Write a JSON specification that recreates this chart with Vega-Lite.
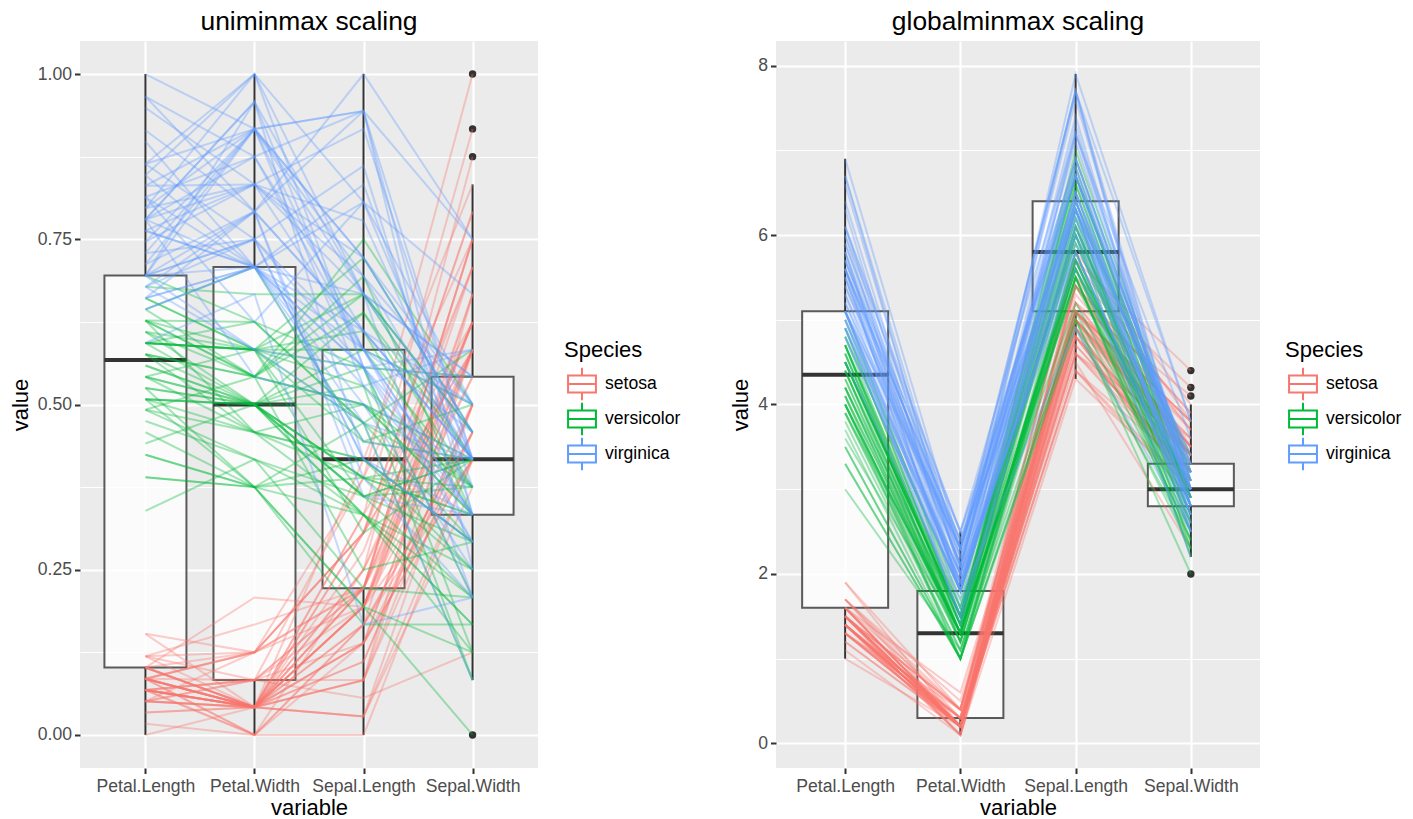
{
"$schema": "https://vega.github.io/schema/vega-lite/v6.json",
"background": "white",
"padding": {"left": 9, "top": 8, "right": 5, "bottom": 0},
"spacing": 48,
"config": {
  "font": "Liberation Sans",
  "view": {"fill": "#EBEBEB", "stroke": null},
  "axis": {"domain": false, "labelColor": "#4D4D4D", "labelFontSize": 17.6, "titleFontSize": 22, "titleFontWeight": "normal", "titleColor": "#000000", "tickColor": "#333333", "tickSize": 5.5, "tickWidth": 2, "gridColor": "#FFFFFF", "gridWidth": 2.1, "labelPadding": 3, "titlePadding": 5},
  "axisX": {"labelAngle": 0, "labelPadding": 4, "titlePadding": 2},
  "title": {"fontSize": 26.4, "fontWeight": "normal", "color": "#000000", "frame": "group", "anchor": "middle", "offset": 6}
},
"data": {"values": [
{"id":1,"Species":"setosa","PL":1.4,"PW":0.2,"SL":5.1,"SW":3.5,"uPL":0.068,"uPW":0.042,"uSL":0.222,"uSW":0.625},
{"id":2,"Species":"setosa","PL":1.4,"PW":0.2,"SL":4.9,"SW":3.0,"uPL":0.068,"uPW":0.042,"uSL":0.167,"uSW":0.417},
{"id":3,"Species":"setosa","PL":1.3,"PW":0.2,"SL":4.7,"SW":3.2,"uPL":0.051,"uPW":0.042,"uSL":0.111,"uSW":0.5},
{"id":4,"Species":"setosa","PL":1.5,"PW":0.2,"SL":4.6,"SW":3.1,"uPL":0.085,"uPW":0.042,"uSL":0.083,"uSW":0.458},
{"id":5,"Species":"setosa","PL":1.4,"PW":0.2,"SL":5.0,"SW":3.6,"uPL":0.068,"uPW":0.042,"uSL":0.194,"uSW":0.667},
{"id":6,"Species":"setosa","PL":1.7,"PW":0.4,"SL":5.4,"SW":3.9,"uPL":0.119,"uPW":0.125,"uSL":0.306,"uSW":0.792},
{"id":7,"Species":"setosa","PL":1.4,"PW":0.3,"SL":4.6,"SW":3.4,"uPL":0.068,"uPW":0.083,"uSL":0.083,"uSW":0.583},
{"id":8,"Species":"setosa","PL":1.5,"PW":0.2,"SL":5.0,"SW":3.4,"uPL":0.085,"uPW":0.042,"uSL":0.194,"uSW":0.583},
{"id":9,"Species":"setosa","PL":1.4,"PW":0.2,"SL":4.4,"SW":2.9,"uPL":0.068,"uPW":0.042,"uSL":0.028,"uSW":0.375},
{"id":10,"Species":"setosa","PL":1.5,"PW":0.1,"SL":4.9,"SW":3.1,"uPL":0.085,"uPW":0,"uSL":0.167,"uSW":0.458},
{"id":11,"Species":"setosa","PL":1.5,"PW":0.2,"SL":5.4,"SW":3.7,"uPL":0.085,"uPW":0.042,"uSL":0.306,"uSW":0.708},
{"id":12,"Species":"setosa","PL":1.6,"PW":0.2,"SL":4.8,"SW":3.4,"uPL":0.102,"uPW":0.042,"uSL":0.139,"uSW":0.583},
{"id":13,"Species":"setosa","PL":1.4,"PW":0.1,"SL":4.8,"SW":3.0,"uPL":0.068,"uPW":0,"uSL":0.139,"uSW":0.417},
{"id":14,"Species":"setosa","PL":1.1,"PW":0.1,"SL":4.3,"SW":3.0,"uPL":0.017,"uPW":0,"uSL":0,"uSW":0.417},
{"id":15,"Species":"setosa","PL":1.2,"PW":0.2,"SL":5.8,"SW":4.0,"uPL":0.034,"uPW":0.042,"uSL":0.417,"uSW":0.833},
{"id":16,"Species":"setosa","PL":1.5,"PW":0.4,"SL":5.7,"SW":4.4,"uPL":0.085,"uPW":0.125,"uSL":0.389,"uSW":1},
{"id":17,"Species":"setosa","PL":1.3,"PW":0.4,"SL":5.4,"SW":3.9,"uPL":0.051,"uPW":0.125,"uSL":0.306,"uSW":0.792},
{"id":18,"Species":"setosa","PL":1.4,"PW":0.3,"SL":5.1,"SW":3.5,"uPL":0.068,"uPW":0.083,"uSL":0.222,"uSW":0.625},
{"id":19,"Species":"setosa","PL":1.7,"PW":0.3,"SL":5.7,"SW":3.8,"uPL":0.119,"uPW":0.083,"uSL":0.389,"uSW":0.75},
{"id":20,"Species":"setosa","PL":1.5,"PW":0.3,"SL":5.1,"SW":3.8,"uPL":0.085,"uPW":0.083,"uSL":0.222,"uSW":0.75},
{"id":21,"Species":"setosa","PL":1.7,"PW":0.2,"SL":5.4,"SW":3.4,"uPL":0.119,"uPW":0.042,"uSL":0.306,"uSW":0.583},
{"id":22,"Species":"setosa","PL":1.5,"PW":0.4,"SL":5.1,"SW":3.7,"uPL":0.085,"uPW":0.125,"uSL":0.222,"uSW":0.708},
{"id":23,"Species":"setosa","PL":1.0,"PW":0.2,"SL":4.6,"SW":3.6,"uPL":0,"uPW":0.042,"uSL":0.083,"uSW":0.667},
{"id":24,"Species":"setosa","PL":1.7,"PW":0.5,"SL":5.1,"SW":3.3,"uPL":0.119,"uPW":0.167,"uSL":0.222,"uSW":0.542},
{"id":25,"Species":"setosa","PL":1.9,"PW":0.2,"SL":4.8,"SW":3.4,"uPL":0.153,"uPW":0.042,"uSL":0.139,"uSW":0.583},
{"id":26,"Species":"setosa","PL":1.6,"PW":0.2,"SL":5.0,"SW":3.0,"uPL":0.102,"uPW":0.042,"uSL":0.194,"uSW":0.417},
{"id":27,"Species":"setosa","PL":1.6,"PW":0.4,"SL":5.0,"SW":3.4,"uPL":0.102,"uPW":0.125,"uSL":0.194,"uSW":0.583},
{"id":28,"Species":"setosa","PL":1.5,"PW":0.2,"SL":5.2,"SW":3.5,"uPL":0.085,"uPW":0.042,"uSL":0.25,"uSW":0.625},
{"id":29,"Species":"setosa","PL":1.4,"PW":0.2,"SL":5.2,"SW":3.4,"uPL":0.068,"uPW":0.042,"uSL":0.25,"uSW":0.583},
{"id":30,"Species":"setosa","PL":1.6,"PW":0.2,"SL":4.7,"SW":3.2,"uPL":0.102,"uPW":0.042,"uSL":0.111,"uSW":0.5},
{"id":31,"Species":"setosa","PL":1.6,"PW":0.2,"SL":4.8,"SW":3.1,"uPL":0.102,"uPW":0.042,"uSL":0.139,"uSW":0.458},
{"id":32,"Species":"setosa","PL":1.5,"PW":0.4,"SL":5.4,"SW":3.4,"uPL":0.085,"uPW":0.125,"uSL":0.306,"uSW":0.583},
{"id":33,"Species":"setosa","PL":1.5,"PW":0.1,"SL":5.2,"SW":4.1,"uPL":0.085,"uPW":0,"uSL":0.25,"uSW":0.875},
{"id":34,"Species":"setosa","PL":1.4,"PW":0.2,"SL":5.5,"SW":4.2,"uPL":0.068,"uPW":0.042,"uSL":0.333,"uSW":0.917},
{"id":35,"Species":"setosa","PL":1.5,"PW":0.2,"SL":4.9,"SW":3.1,"uPL":0.085,"uPW":0.042,"uSL":0.167,"uSW":0.458},
{"id":36,"Species":"setosa","PL":1.2,"PW":0.2,"SL":5.0,"SW":3.2,"uPL":0.034,"uPW":0.042,"uSL":0.194,"uSW":0.5},
{"id":37,"Species":"setosa","PL":1.3,"PW":0.2,"SL":5.5,"SW":3.5,"uPL":0.051,"uPW":0.042,"uSL":0.333,"uSW":0.625},
{"id":38,"Species":"setosa","PL":1.4,"PW":0.1,"SL":4.9,"SW":3.6,"uPL":0.068,"uPW":0,"uSL":0.167,"uSW":0.667},
{"id":39,"Species":"setosa","PL":1.3,"PW":0.2,"SL":4.4,"SW":3.0,"uPL":0.051,"uPW":0.042,"uSL":0.028,"uSW":0.417},
{"id":40,"Species":"setosa","PL":1.5,"PW":0.2,"SL":5.1,"SW":3.4,"uPL":0.085,"uPW":0.042,"uSL":0.222,"uSW":0.583},
{"id":41,"Species":"setosa","PL":1.3,"PW":0.3,"SL":5.0,"SW":3.5,"uPL":0.051,"uPW":0.083,"uSL":0.194,"uSW":0.625},
{"id":42,"Species":"setosa","PL":1.3,"PW":0.3,"SL":4.5,"SW":2.3,"uPL":0.051,"uPW":0.083,"uSL":0.056,"uSW":0.125},
{"id":43,"Species":"setosa","PL":1.3,"PW":0.2,"SL":4.4,"SW":3.2,"uPL":0.051,"uPW":0.042,"uSL":0.028,"uSW":0.5},
{"id":44,"Species":"setosa","PL":1.6,"PW":0.6,"SL":5.0,"SW":3.5,"uPL":0.102,"uPW":0.208,"uSL":0.194,"uSW":0.625},
{"id":45,"Species":"setosa","PL":1.9,"PW":0.4,"SL":5.1,"SW":3.8,"uPL":0.153,"uPW":0.125,"uSL":0.222,"uSW":0.75},
{"id":46,"Species":"setosa","PL":1.4,"PW":0.3,"SL":4.8,"SW":3.0,"uPL":0.068,"uPW":0.083,"uSL":0.139,"uSW":0.417},
{"id":47,"Species":"setosa","PL":1.6,"PW":0.2,"SL":5.1,"SW":3.8,"uPL":0.102,"uPW":0.042,"uSL":0.222,"uSW":0.75},
{"id":48,"Species":"setosa","PL":1.4,"PW":0.2,"SL":4.6,"SW":3.2,"uPL":0.068,"uPW":0.042,"uSL":0.083,"uSW":0.5},
{"id":49,"Species":"setosa","PL":1.5,"PW":0.2,"SL":5.3,"SW":3.7,"uPL":0.085,"uPW":0.042,"uSL":0.278,"uSW":0.708},
{"id":50,"Species":"setosa","PL":1.4,"PW":0.2,"SL":5.0,"SW":3.3,"uPL":0.068,"uPW":0.042,"uSL":0.194,"uSW":0.542},
{"id":51,"Species":"versicolor","PL":4.7,"PW":1.4,"SL":7.0,"SW":3.2,"uPL":0.627,"uPW":0.542,"uSL":0.75,"uSW":0.5},
{"id":52,"Species":"versicolor","PL":4.5,"PW":1.5,"SL":6.4,"SW":3.2,"uPL":0.593,"uPW":0.583,"uSL":0.583,"uSW":0.5},
{"id":53,"Species":"versicolor","PL":4.9,"PW":1.5,"SL":6.9,"SW":3.1,"uPL":0.661,"uPW":0.583,"uSL":0.722,"uSW":0.458},
{"id":54,"Species":"versicolor","PL":4.0,"PW":1.3,"SL":5.5,"SW":2.3,"uPL":0.508,"uPW":0.5,"uSL":0.333,"uSW":0.125},
{"id":55,"Species":"versicolor","PL":4.6,"PW":1.5,"SL":6.5,"SW":2.8,"uPL":0.61,"uPW":0.583,"uSL":0.611,"uSW":0.333},
{"id":56,"Species":"versicolor","PL":4.5,"PW":1.3,"SL":5.7,"SW":2.8,"uPL":0.593,"uPW":0.5,"uSL":0.389,"uSW":0.333},
{"id":57,"Species":"versicolor","PL":4.7,"PW":1.6,"SL":6.3,"SW":3.3,"uPL":0.627,"uPW":0.625,"uSL":0.556,"uSW":0.542},
{"id":58,"Species":"versicolor","PL":3.3,"PW":1.0,"SL":4.9,"SW":2.4,"uPL":0.39,"uPW":0.375,"uSL":0.167,"uSW":0.167},
{"id":59,"Species":"versicolor","PL":4.6,"PW":1.3,"SL":6.6,"SW":2.9,"uPL":0.61,"uPW":0.5,"uSL":0.639,"uSW":0.375},
{"id":60,"Species":"versicolor","PL":3.9,"PW":1.4,"SL":5.2,"SW":2.7,"uPL":0.492,"uPW":0.542,"uSL":0.25,"uSW":0.292},
{"id":61,"Species":"versicolor","PL":3.5,"PW":1.0,"SL":5.0,"SW":2.0,"uPL":0.424,"uPW":0.375,"uSL":0.194,"uSW":0},
{"id":62,"Species":"versicolor","PL":4.2,"PW":1.5,"SL":5.9,"SW":3.0,"uPL":0.542,"uPW":0.583,"uSL":0.444,"uSW":0.417},
{"id":63,"Species":"versicolor","PL":4.0,"PW":1.0,"SL":6.0,"SW":2.2,"uPL":0.508,"uPW":0.375,"uSL":0.472,"uSW":0.083},
{"id":64,"Species":"versicolor","PL":4.7,"PW":1.4,"SL":6.1,"SW":2.9,"uPL":0.627,"uPW":0.542,"uSL":0.5,"uSW":0.375},
{"id":65,"Species":"versicolor","PL":3.6,"PW":1.3,"SL":5.6,"SW":2.9,"uPL":0.441,"uPW":0.5,"uSL":0.361,"uSW":0.375},
{"id":66,"Species":"versicolor","PL":4.4,"PW":1.4,"SL":6.7,"SW":3.1,"uPL":0.576,"uPW":0.542,"uSL":0.667,"uSW":0.458},
{"id":67,"Species":"versicolor","PL":4.5,"PW":1.5,"SL":5.6,"SW":3.0,"uPL":0.593,"uPW":0.583,"uSL":0.361,"uSW":0.417},
{"id":68,"Species":"versicolor","PL":4.1,"PW":1.0,"SL":5.8,"SW":2.7,"uPL":0.525,"uPW":0.375,"uSL":0.417,"uSW":0.292},
{"id":69,"Species":"versicolor","PL":4.5,"PW":1.5,"SL":6.2,"SW":2.2,"uPL":0.593,"uPW":0.583,"uSL":0.528,"uSW":0.083},
{"id":70,"Species":"versicolor","PL":3.9,"PW":1.1,"SL":5.6,"SW":2.5,"uPL":0.492,"uPW":0.417,"uSL":0.361,"uSW":0.208},
{"id":71,"Species":"versicolor","PL":4.8,"PW":1.8,"SL":5.9,"SW":3.2,"uPL":0.644,"uPW":0.708,"uSL":0.444,"uSW":0.5},
{"id":72,"Species":"versicolor","PL":4.0,"PW":1.3,"SL":6.1,"SW":2.8,"uPL":0.508,"uPW":0.5,"uSL":0.5,"uSW":0.333},
{"id":73,"Species":"versicolor","PL":4.9,"PW":1.5,"SL":6.3,"SW":2.5,"uPL":0.661,"uPW":0.583,"uSL":0.556,"uSW":0.208},
{"id":74,"Species":"versicolor","PL":4.7,"PW":1.2,"SL":6.1,"SW":2.8,"uPL":0.627,"uPW":0.458,"uSL":0.5,"uSW":0.333},
{"id":75,"Species":"versicolor","PL":4.3,"PW":1.3,"SL":6.4,"SW":2.9,"uPL":0.559,"uPW":0.5,"uSL":0.583,"uSW":0.375},
{"id":76,"Species":"versicolor","PL":4.4,"PW":1.4,"SL":6.6,"SW":3.0,"uPL":0.576,"uPW":0.542,"uSL":0.639,"uSW":0.417},
{"id":77,"Species":"versicolor","PL":4.8,"PW":1.4,"SL":6.8,"SW":2.8,"uPL":0.644,"uPW":0.542,"uSL":0.694,"uSW":0.333},
{"id":78,"Species":"versicolor","PL":5.0,"PW":1.7,"SL":6.7,"SW":3.0,"uPL":0.678,"uPW":0.667,"uSL":0.667,"uSW":0.417},
{"id":79,"Species":"versicolor","PL":4.5,"PW":1.5,"SL":6.0,"SW":2.9,"uPL":0.593,"uPW":0.583,"uSL":0.472,"uSW":0.375},
{"id":80,"Species":"versicolor","PL":3.5,"PW":1.0,"SL":5.7,"SW":2.6,"uPL":0.424,"uPW":0.375,"uSL":0.389,"uSW":0.25},
{"id":81,"Species":"versicolor","PL":3.8,"PW":1.1,"SL":5.5,"SW":2.4,"uPL":0.475,"uPW":0.417,"uSL":0.333,"uSW":0.167},
{"id":82,"Species":"versicolor","PL":3.7,"PW":1.0,"SL":5.5,"SW":2.4,"uPL":0.458,"uPW":0.375,"uSL":0.333,"uSW":0.167},
{"id":83,"Species":"versicolor","PL":3.9,"PW":1.2,"SL":5.8,"SW":2.7,"uPL":0.492,"uPW":0.458,"uSL":0.417,"uSW":0.292},
{"id":84,"Species":"versicolor","PL":5.1,"PW":1.6,"SL":6.0,"SW":2.7,"uPL":0.695,"uPW":0.625,"uSL":0.472,"uSW":0.292},
{"id":85,"Species":"versicolor","PL":4.5,"PW":1.5,"SL":5.4,"SW":3.0,"uPL":0.593,"uPW":0.583,"uSL":0.306,"uSW":0.417},
{"id":86,"Species":"versicolor","PL":4.5,"PW":1.6,"SL":6.0,"SW":3.4,"uPL":0.593,"uPW":0.625,"uSL":0.472,"uSW":0.583},
{"id":87,"Species":"versicolor","PL":4.7,"PW":1.5,"SL":6.7,"SW":3.1,"uPL":0.627,"uPW":0.583,"uSL":0.667,"uSW":0.458},
{"id":88,"Species":"versicolor","PL":4.4,"PW":1.3,"SL":6.3,"SW":2.3,"uPL":0.576,"uPW":0.5,"uSL":0.556,"uSW":0.125},
{"id":89,"Species":"versicolor","PL":4.1,"PW":1.3,"SL":5.6,"SW":3.0,"uPL":0.525,"uPW":0.5,"uSL":0.361,"uSW":0.417},
{"id":90,"Species":"versicolor","PL":4.0,"PW":1.3,"SL":5.5,"SW":2.5,"uPL":0.508,"uPW":0.5,"uSL":0.333,"uSW":0.208},
{"id":91,"Species":"versicolor","PL":4.4,"PW":1.2,"SL":5.5,"SW":2.6,"uPL":0.576,"uPW":0.458,"uSL":0.333,"uSW":0.25},
{"id":92,"Species":"versicolor","PL":4.6,"PW":1.4,"SL":6.1,"SW":3.0,"uPL":0.61,"uPW":0.542,"uSL":0.5,"uSW":0.417},
{"id":93,"Species":"versicolor","PL":4.0,"PW":1.2,"SL":5.8,"SW":2.6,"uPL":0.508,"uPW":0.458,"uSL":0.417,"uSW":0.25},
{"id":94,"Species":"versicolor","PL":3.3,"PW":1.0,"SL":5.0,"SW":2.3,"uPL":0.39,"uPW":0.375,"uSL":0.194,"uSW":0.125},
{"id":95,"Species":"versicolor","PL":4.2,"PW":1.3,"SL":5.6,"SW":2.7,"uPL":0.542,"uPW":0.5,"uSL":0.361,"uSW":0.292},
{"id":96,"Species":"versicolor","PL":4.2,"PW":1.2,"SL":5.7,"SW":3.0,"uPL":0.542,"uPW":0.458,"uSL":0.389,"uSW":0.417},
{"id":97,"Species":"versicolor","PL":4.2,"PW":1.3,"SL":5.7,"SW":2.9,"uPL":0.542,"uPW":0.5,"uSL":0.389,"uSW":0.375},
{"id":98,"Species":"versicolor","PL":4.3,"PW":1.3,"SL":6.2,"SW":2.9,"uPL":0.559,"uPW":0.5,"uSL":0.528,"uSW":0.375},
{"id":99,"Species":"versicolor","PL":3.0,"PW":1.1,"SL":5.1,"SW":2.5,"uPL":0.339,"uPW":0.417,"uSL":0.222,"uSW":0.208},
{"id":100,"Species":"versicolor","PL":4.1,"PW":1.3,"SL":5.7,"SW":2.8,"uPL":0.525,"uPW":0.5,"uSL":0.389,"uSW":0.333},
{"id":101,"Species":"virginica","PL":6.0,"PW":2.5,"SL":6.3,"SW":3.3,"uPL":0.847,"uPW":1,"uSL":0.556,"uSW":0.542},
{"id":102,"Species":"virginica","PL":5.1,"PW":1.9,"SL":5.8,"SW":2.7,"uPL":0.695,"uPW":0.75,"uSL":0.417,"uSW":0.292},
{"id":103,"Species":"virginica","PL":5.9,"PW":2.1,"SL":7.1,"SW":3.0,"uPL":0.831,"uPW":0.833,"uSL":0.778,"uSW":0.417},
{"id":104,"Species":"virginica","PL":5.6,"PW":1.8,"SL":6.3,"SW":2.9,"uPL":0.78,"uPW":0.708,"uSL":0.556,"uSW":0.375},
{"id":105,"Species":"virginica","PL":5.8,"PW":2.2,"SL":6.5,"SW":3.0,"uPL":0.814,"uPW":0.875,"uSL":0.611,"uSW":0.417},
{"id":106,"Species":"virginica","PL":6.6,"PW":2.1,"SL":7.6,"SW":3.0,"uPL":0.949,"uPW":0.833,"uSL":0.917,"uSW":0.417},
{"id":107,"Species":"virginica","PL":4.5,"PW":1.7,"SL":4.9,"SW":2.5,"uPL":0.593,"uPW":0.667,"uSL":0.167,"uSW":0.208},
{"id":108,"Species":"virginica","PL":6.3,"PW":1.8,"SL":7.3,"SW":2.9,"uPL":0.898,"uPW":0.708,"uSL":0.833,"uSW":0.375},
{"id":109,"Species":"virginica","PL":5.8,"PW":1.8,"SL":6.7,"SW":2.5,"uPL":0.814,"uPW":0.708,"uSL":0.667,"uSW":0.208},
{"id":110,"Species":"virginica","PL":6.1,"PW":2.5,"SL":7.2,"SW":3.6,"uPL":0.864,"uPW":1,"uSL":0.806,"uSW":0.667},
{"id":111,"Species":"virginica","PL":5.1,"PW":2.0,"SL":6.5,"SW":3.2,"uPL":0.695,"uPW":0.792,"uSL":0.611,"uSW":0.5},
{"id":112,"Species":"virginica","PL":5.3,"PW":1.9,"SL":6.4,"SW":2.7,"uPL":0.729,"uPW":0.75,"uSL":0.583,"uSW":0.292},
{"id":113,"Species":"virginica","PL":5.5,"PW":2.1,"SL":6.8,"SW":3.0,"uPL":0.763,"uPW":0.833,"uSL":0.694,"uSW":0.417},
{"id":114,"Species":"virginica","PL":5.0,"PW":2.0,"SL":5.7,"SW":2.5,"uPL":0.678,"uPW":0.792,"uSL":0.389,"uSW":0.208},
{"id":115,"Species":"virginica","PL":5.1,"PW":2.4,"SL":5.8,"SW":2.8,"uPL":0.695,"uPW":0.958,"uSL":0.417,"uSW":0.333},
{"id":116,"Species":"virginica","PL":5.3,"PW":2.3,"SL":6.4,"SW":3.2,"uPL":0.729,"uPW":0.917,"uSL":0.583,"uSW":0.5},
{"id":117,"Species":"virginica","PL":5.5,"PW":1.8,"SL":6.5,"SW":3.0,"uPL":0.763,"uPW":0.708,"uSL":0.611,"uSW":0.417},
{"id":118,"Species":"virginica","PL":6.7,"PW":2.2,"SL":7.7,"SW":3.8,"uPL":0.966,"uPW":0.875,"uSL":0.944,"uSW":0.75},
{"id":119,"Species":"virginica","PL":6.9,"PW":2.3,"SL":7.7,"SW":2.6,"uPL":1,"uPW":0.917,"uSL":0.944,"uSW":0.25},
{"id":120,"Species":"virginica","PL":5.0,"PW":1.5,"SL":6.0,"SW":2.2,"uPL":0.678,"uPW":0.583,"uSL":0.472,"uSW":0.083},
{"id":121,"Species":"virginica","PL":5.7,"PW":2.3,"SL":6.9,"SW":3.2,"uPL":0.797,"uPW":0.917,"uSL":0.722,"uSW":0.5},
{"id":122,"Species":"virginica","PL":4.9,"PW":2.0,"SL":5.6,"SW":2.8,"uPL":0.661,"uPW":0.792,"uSL":0.361,"uSW":0.333},
{"id":123,"Species":"virginica","PL":6.7,"PW":2.0,"SL":7.7,"SW":2.8,"uPL":0.966,"uPW":0.792,"uSL":0.944,"uSW":0.333},
{"id":124,"Species":"virginica","PL":4.9,"PW":1.8,"SL":6.3,"SW":2.7,"uPL":0.661,"uPW":0.708,"uSL":0.556,"uSW":0.292},
{"id":125,"Species":"virginica","PL":5.7,"PW":2.1,"SL":6.7,"SW":3.3,"uPL":0.797,"uPW":0.833,"uSL":0.667,"uSW":0.542},
{"id":126,"Species":"virginica","PL":6.0,"PW":1.8,"SL":7.2,"SW":3.2,"uPL":0.847,"uPW":0.708,"uSL":0.806,"uSW":0.5},
{"id":127,"Species":"virginica","PL":4.8,"PW":1.8,"SL":6.2,"SW":2.8,"uPL":0.644,"uPW":0.708,"uSL":0.528,"uSW":0.333},
{"id":128,"Species":"virginica","PL":4.9,"PW":1.8,"SL":6.1,"SW":3.0,"uPL":0.661,"uPW":0.708,"uSL":0.5,"uSW":0.417},
{"id":129,"Species":"virginica","PL":5.6,"PW":2.1,"SL":6.4,"SW":2.8,"uPL":0.78,"uPW":0.833,"uSL":0.583,"uSW":0.333},
{"id":130,"Species":"virginica","PL":5.8,"PW":1.6,"SL":7.2,"SW":3.0,"uPL":0.814,"uPW":0.625,"uSL":0.806,"uSW":0.417},
{"id":131,"Species":"virginica","PL":6.1,"PW":1.9,"SL":7.4,"SW":2.8,"uPL":0.864,"uPW":0.75,"uSL":0.861,"uSW":0.333},
{"id":132,"Species":"virginica","PL":6.4,"PW":2.0,"SL":7.9,"SW":3.8,"uPL":0.915,"uPW":0.792,"uSL":1,"uSW":0.75},
{"id":133,"Species":"virginica","PL":5.6,"PW":2.2,"SL":6.4,"SW":2.8,"uPL":0.78,"uPW":0.875,"uSL":0.583,"uSW":0.333},
{"id":134,"Species":"virginica","PL":5.1,"PW":1.5,"SL":6.3,"SW":2.8,"uPL":0.695,"uPW":0.583,"uSL":0.556,"uSW":0.333},
{"id":135,"Species":"virginica","PL":5.6,"PW":1.4,"SL":6.1,"SW":2.6,"uPL":0.78,"uPW":0.542,"uSL":0.5,"uSW":0.25},
{"id":136,"Species":"virginica","PL":6.1,"PW":2.3,"SL":7.7,"SW":3.0,"uPL":0.864,"uPW":0.917,"uSL":0.944,"uSW":0.417},
{"id":137,"Species":"virginica","PL":5.6,"PW":2.4,"SL":6.3,"SW":3.4,"uPL":0.78,"uPW":0.958,"uSL":0.556,"uSW":0.583},
{"id":138,"Species":"virginica","PL":5.5,"PW":1.8,"SL":6.4,"SW":3.1,"uPL":0.763,"uPW":0.708,"uSL":0.583,"uSW":0.458},
{"id":139,"Species":"virginica","PL":4.8,"PW":1.8,"SL":6.0,"SW":3.0,"uPL":0.644,"uPW":0.708,"uSL":0.472,"uSW":0.417},
{"id":140,"Species":"virginica","PL":5.4,"PW":2.1,"SL":6.9,"SW":3.1,"uPL":0.746,"uPW":0.833,"uSL":0.722,"uSW":0.458},
{"id":141,"Species":"virginica","PL":5.6,"PW":2.4,"SL":6.7,"SW":3.1,"uPL":0.78,"uPW":0.958,"uSL":0.667,"uSW":0.458},
{"id":142,"Species":"virginica","PL":5.1,"PW":2.3,"SL":6.9,"SW":3.1,"uPL":0.695,"uPW":0.917,"uSL":0.722,"uSW":0.458},
{"id":143,"Species":"virginica","PL":5.1,"PW":1.9,"SL":5.8,"SW":2.7,"uPL":0.695,"uPW":0.75,"uSL":0.417,"uSW":0.292},
{"id":144,"Species":"virginica","PL":5.9,"PW":2.3,"SL":6.8,"SW":3.2,"uPL":0.831,"uPW":0.917,"uSL":0.694,"uSW":0.5},
{"id":145,"Species":"virginica","PL":5.7,"PW":2.5,"SL":6.7,"SW":3.3,"uPL":0.797,"uPW":1,"uSL":0.667,"uSW":0.542},
{"id":146,"Species":"virginica","PL":5.2,"PW":2.3,"SL":6.7,"SW":3.0,"uPL":0.712,"uPW":0.917,"uSL":0.667,"uSW":0.417},
{"id":147,"Species":"virginica","PL":5.0,"PW":1.9,"SL":6.3,"SW":2.5,"uPL":0.678,"uPW":0.75,"uSL":0.556,"uSW":0.208},
{"id":148,"Species":"virginica","PL":5.2,"PW":2.0,"SL":6.5,"SW":3.0,"uPL":0.712,"uPW":0.792,"uSL":0.611,"uSW":0.417},
{"id":149,"Species":"virginica","PL":5.4,"PW":2.3,"SL":6.2,"SW":3.4,"uPL":0.746,"uPW":0.917,"uSL":0.528,"uSW":0.583},
{"id":150,"Species":"virginica","PL":5.1,"PW":1.8,"SL":5.9,"SW":3.0,"uPL":0.695,"uPW":0.708,"uSL":0.444,"uSW":0.417}
]},
"hconcat": [
{
  "title": "uniminmax scaling",
  "width": 458, "height": 727,
  "transform": [{"fold": ["uPL", "uPW", "uSL", "uSW"], "as": ["variable", "value"]}],
  "layer": [
    {
      "mark": {"type": "boxplot", "extent": 1.5, "size": 82,
        "box": {"fill": "#FFFFFF", "fillOpacity": 0.8, "stroke": "#333333", "strokeOpacity": 0.8, "strokeWidth": 2},
        "median": {"color": "#333333", "thickness": 4, "opacity": 1},
        "rule": {"color": "#333333", "strokeWidth": 2},
        "outliers": {"color": "#333333", "filled": true, "size": 55, "opacity": 1}},
      "encoding": {
        "x": {"field": "variable", "type": "nominal", "scale": {"type": "point", "padding": 0.6},
              "axis": {"title": "variable", "grid": true, "labelExpr": "datum.value == 'uPL' ? 'Petal.Length' : datum.value == 'uPW' ? 'Petal.Width' : datum.value == 'uSL' ? 'Sepal.Length' : 'Sepal.Width'"}},
        "y": {"field": "value", "type": "quantitative", "scale": {"domain": [-0.05, 1.05], "nice": false, "zero": false},
              "axis": {"title": "value", "values": [0, 0.25, 0.5, 0.75, 1], "format": ".2f", "grid": true, "orient": "left"}}
      }
    },
    {
      "mark": {"type": "line", "strokeWidth": 2, "opacity": 0.35},
      "encoding": {
        "x": {"field": "variable", "type": "nominal"},
        "y": {"field": "value", "type": "quantitative",
              "axis": {"values": [0.125, 0.375, 0.625, 0.875], "grid": true, "gridWidth": 1.05, "labels": false, "ticks": false, "domain": false, "title": null, "orient": "left"}},
        "detail": {"field": "id", "type": "nominal"},
        "color": {"field": "Species", "type": "nominal",
          "scale": {"domain": ["setosa", "versicolor", "virginica"], "range": ["#F8766D", "#00BA38", "#619CFF"]},
          "legend": {"orient": "none", "legendX": 484, "legendY": 299, "title": "Species", "titleFontSize": 22, "titleFontWeight": "normal", "titleColor": "#000000", "labelFontSize": 17.6, "labelColor": "#000000",
            "symbolType": "M-0.82,-0.5H0.82V0.5H-0.82Z M-0.82,0H0.82 M0,-0.5V-0.95 M0,0.5V0.95", "symbolSize": 1156, "symbolStrokeWidth": 2, "symbolFillColor": "transparent", "symbolOpacity": 1, "rowPadding": 1, "clipHeight": 34, "labelOffset": 5, "titlePadding": 5}}
      }
    }
  ],
  "resolve": {"axis": {"y": "independent"}}
},
{
  "title": "globalminmax scaling",
  "width": 484, "height": 727,
  "transform": [{"fold": ["PL", "PW", "SL", "SW"], "as": ["variable", "value"]}],
  "layer": [
    {
      "mark": {"type": "boxplot", "extent": 1.5, "size": 86,
        "box": {"fill": "#FFFFFF", "fillOpacity": 0.8, "stroke": "#333333", "strokeOpacity": 0.8, "strokeWidth": 2},
        "median": {"color": "#333333", "thickness": 4, "opacity": 1},
        "rule": {"color": "#333333", "strokeWidth": 2},
        "outliers": {"color": "#333333", "filled": true, "size": 55, "opacity": 1}},
      "encoding": {
        "x": {"field": "variable", "type": "nominal", "scale": {"type": "point", "padding": 0.6},
              "axis": {"title": "variable", "grid": true, "labelExpr": "datum.value == 'PL' ? 'Petal.Length' : datum.value == 'PW' ? 'Petal.Width' : datum.value == 'SL' ? 'Sepal.Length' : 'Sepal.Width'"}},
        "y": {"field": "value", "type": "quantitative", "scale": {"domain": [-0.29, 8.29], "nice": false, "zero": false},
              "axis": {"title": "value", "values": [0, 2, 4, 6, 8], "format": "d", "grid": true, "orient": "left"}}
      }
    },
    {
      "mark": {"type": "line", "strokeWidth": 2, "opacity": 0.35},
      "encoding": {
        "x": {"field": "variable", "type": "nominal"},
        "y": {"field": "value", "type": "quantitative",
              "axis": {"values": [1, 3, 5, 7], "grid": true, "gridWidth": 1.05, "labels": false, "ticks": false, "domain": false, "title": null, "orient": "left"}},
        "detail": {"field": "id", "type": "nominal"},
        "color": {"field": "Species", "type": "nominal",
          "scale": {"domain": ["setosa", "versicolor", "virginica"], "range": ["#F8766D", "#00BA38", "#619CFF"]},
          "legend": {"orient": "none", "legendX": 509, "legendY": 299, "title": "Species", "titleFontSize": 22, "titleFontWeight": "normal", "titleColor": "#000000", "labelFontSize": 17.6, "labelColor": "#000000",
            "symbolType": "M-0.82,-0.5H0.82V0.5H-0.82Z M-0.82,0H0.82 M0,-0.5V-0.95 M0,0.5V0.95", "symbolSize": 1156, "symbolStrokeWidth": 2, "symbolFillColor": "transparent", "symbolOpacity": 1, "rowPadding": 1, "clipHeight": 34, "labelOffset": 5, "titlePadding": 5}}
      }
    }
  ],
  "resolve": {"axis": {"y": "independent"}}
}
],
"resolve": {"legend": {"color": "independent"}, "scale": {"color": "independent", "y": "independent", "x": "independent"}}
}
